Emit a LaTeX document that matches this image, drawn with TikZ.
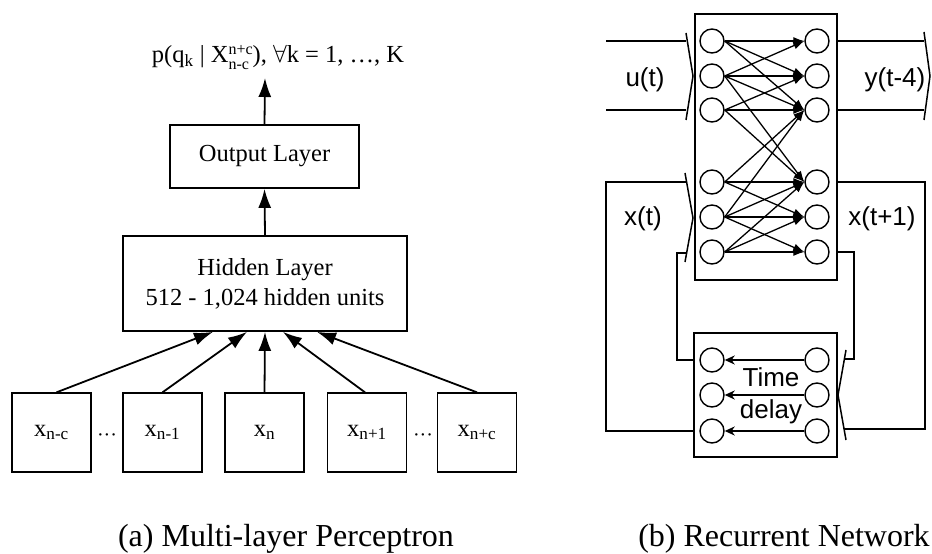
\documentclass[tikz,border=0pt]{standalone}
\usepackage{fontspec}
\setmainfont{Liberation Serif}
\newfontfamily\hel{Liberation Sans}
\usetikzlibrary{arrows.meta}
\begin{document}
\begin{tikzpicture}[x=1bp,y=-1bp,
  box/.style={draw,line width=1.8bp,inner sep=0pt},
  tr/.style={font=\fontsize{24.5bp}{30bp}\selectfont},
  larr/.style={line width=1.8bp,-{Latex[length=19bp,width=13bp]}},
  neuron/.style={circle,draw,line width=1.4bp,minimum size=24bp,inner sep=0pt},
  narr/.style={line width=1.3bp,-{Latex[length=11bp,width=8bp]}},
  darr/.style={line width=1.4bp,-{Stealth[length=10bp,width=9bp,inset=3bp]}},
  wire/.style={line width=1.6bp},
  brk/.style={line width=1.5bp},
  hv/.style={font=\hel\fontsize{26bp}{32bp}\selectfont},
  capt/.style={font=\fontsize{32bp}{38bp}\selectfont},
]
\useasboundingbox (0,0) rectangle (932,554);

% ---------------- (a) Multi-layer Perceptron ----------------
\node[tr,anchor=base] (prob) at (278,63)
  {p(q\textsubscript{k} | X{\fontsize{16bp}{15bp}\selectfont\begin{tabular}{@{}l@{}}n+c\\n-c\end{tabular}}), $\forall$k = 1, \ldots, K};
\node[box,tr,minimum width=189bp,minimum height=63bp] (out) at (264.5,156.5) {Output Layer};
\node[box,tr,minimum width=284bp,minimum height=95bp,align=center] (hid) at (265,283.5)
  {Hidden Layer\\512 - 1,024 hidden units};
\coordinate (ptop) at (265,78);
\draw[larr] (out.north) -- (ptop);
\draw[larr] (hid.north) -- (out.south);

\tikzset{inbox/.style={box,tr,minimum width=79bp,minimum height=78.5bp}}
\node[inbox] (i1) at (51.5,432.5) {x\textsubscript{n-c}};
\node[inbox] (i2) at (162.5,432.5) {x\textsubscript{n-1}};
\node[inbox] (i3) at (264.5,432.5) {x\textsubscript{n}};
\node[inbox] (i4) at (367,432.5) {x\textsubscript{n+1}};
\node[inbox] (i5) at (477,432.5) {x\textsubscript{n+c}};
\node[font=\fontsize{20bp}{24bp}\selectfont] (d1) at (107,438)
  {\textperiodcentered\textperiodcentered\textperiodcentered};
\node[font=\fontsize{20bp}{24bp}\selectfont] (d2) at (423,438)
  {\textperiodcentered\textperiodcentered\textperiodcentered};

\draw[larr] ([xshift=5bp]i1.north) -- ([xshift=-52bp]hid.south);
\draw[larr] (i2.north) -- ([xshift=-18bp]hid.south);
\draw[larr] (i3.north) -- (hid.south);
\draw[larr] ([xshift=-2bp]i4.north) -- ([xshift=18bp]hid.south);
\draw[larr] (i5.north) -- ([xshift=52bp]hid.south);

\node[capt,anchor=base] (capa) at (286,546) {(a) Multi-layer Perceptron};

% ---------------- (b) Recurrent Network ----------------
\node[box,minimum width=142bp,minimum height=266bp] (net) at (766,147) {};
\node[box,minimum width=143bp,minimum height=124bp] (dly) at (765.5,395) {};

\foreach \i/\y in {1/41,2/76,3/110,4/182,5/217,6/252}{
  \node[neuron] (L\i) at (712,\y) {};
  \node[neuron] (R\i) at (817,\y) {};
}
\foreach \a/\b in {1/1,1/2,1/3,2/1,2/2,2/3,2/4,3/2,3/3,3/4,
                   4/3,4/4,4/5,5/3,5/4,5/5,5/6,6/4,6/5,6/6}{
  \draw[narr] (L\a.east) -- (R\b.west);
}

\foreach \i/\y in {1/360,2/395,3/431}{
  \node[neuron] (DL\i) at (712,\y) {};
  \node[neuron] (DR\i) at (817,\y) {};
  \draw[darr] (DR\i.west) -- (DL\i.east);
}
\node[hv,align=center] (td) at (771,396) {Time\\delay};

% input u(t)
\coordinate (u1s) at (606,41);  \coordinate (u1e) at (686,41);
\coordinate (u2s) at (606,110); \coordinate (u2e) at (686,110);
\draw[wire] (u1s) -- (u1e);
\draw[wire] (u2s) -- (u2e);
\coordinate (bu1) at (686,33); \coordinate (bu2) at (693,76); \coordinate (bu3) at (686,120);
\draw[brk] (bu1) -- (bu2) -- (bu3);
\node[hv] (ut) at (645,80) {u(t)};

% output y(t-4)
\coordinate (y1e) at (924,41); \coordinate (y2e) at (924,110);
\draw[wire] (net.east |- R1) -- (y1e);
\draw[wire] (net.east |- R3) -- (y2e);
\coordinate (by1) at (924,32); \coordinate (by2) at (930,76); \coordinate (by3) at (924,120);
\draw[brk] (by1) -- (by2) -- (by3);
\node[hv] (yt) at (895,80) {y(t-4)};

% state x(t) into network
\coordinate (oL) at (606,182); \coordinate (xe1) at (686,182);
\coordinate (iL) at (677,253); \coordinate (xe2) at (686,253);
\draw[wire] (dly.west |- DL3) -| (oL) -- (xe1);
\draw[wire] (dly.west |- DL1) -| (iL) -- (xe2);
\coordinate (bx1) at (685,173); \coordinate (bx2) at (693,218); \coordinate (bx3) at (685,262);
\draw[brk] (bx1) -- (bx2) -- (bx3);
\node[hv] (xt) at (643,219) {x(t)};

% state x(t+1) out of network
\coordinate (oR) at (925,429); \coordinate (de3) at (844,429);
\coordinate (iR) at (854,359); \coordinate (de1) at (844,359);
\draw[wire] (net.east |- R4) -| (oR) -- (de3);
\draw[wire] (net.east |- R6) -| (iR) -- (de1);
\coordinate (bd1) at (846,350); \coordinate (bd2) at (838,395); \coordinate (bd3) at (846,440);
\draw[brk] (bd1) -- (bd2) -- (bd3);
\node[hv] (xt1) at (882,219) {x(t+1)};

\node[capt,anchor=base] (capb) at (784,546) {(b) Recurrent Network};
\end{tikzpicture}
\end{document}
